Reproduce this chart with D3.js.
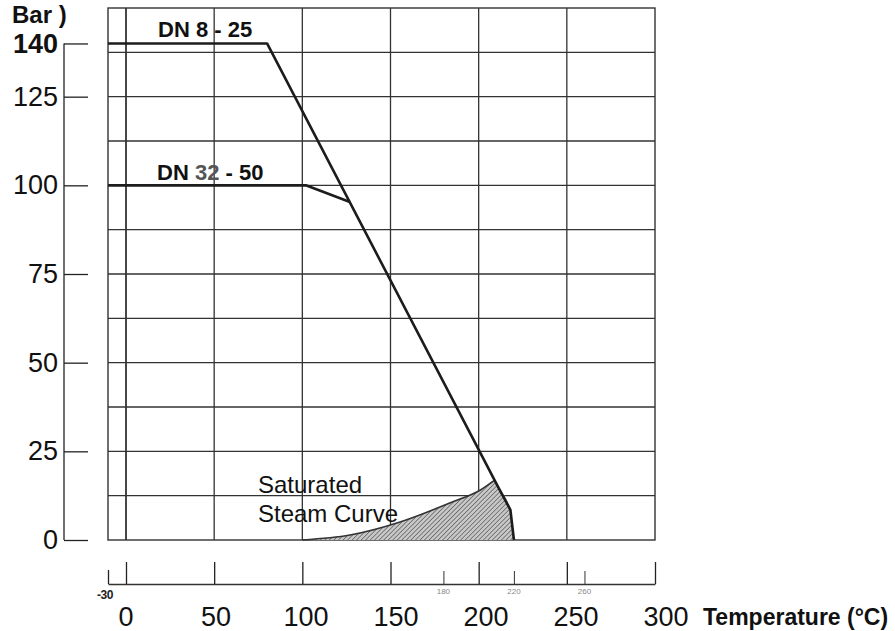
<!DOCTYPE html>
<html>
<head>
<meta charset="utf-8">
<script src="https://cdn.jsdelivr.net/npm/d3@7"></script>
<style>
  body { margin: 0; background: #fff; }
  svg { display: block; font-family: "Liberation Sans", Arial, Helvetica, sans-serif; }
</style>
</head>
<body>
<div id="chart"></div>
<script>
// pressure (bar) / temperature (°C) limits
const yTicks = [0, 25, 50, 75, 100, 125, 140];
const xTicks = [-30, 0, 50, 100, 150, 200, 250, 300];
const xLabels = [0, 50, 100, 150, 200, 250, 300];
const xMinorTicks = [180, 220, 260];
const xGrid = [0, 50, 100, 150, 200, 250];
const yGrid = [12.5, 25, 37.5, 50, 62.5, 75, 87.5, 100, 112.5, 125, 137.5];

const dn825 = [[-30, 140], [80, 140], [211, 15], [218, 8.5], [220, 0]];
const dn3250 = [[-30, 100], [102, 100], [127, 95.3]];
const steamCurve = [[100, 0], [127, 1.4], [155, 5], [184, 10.5], [201, 14.1], [209, 16.8]];
const steamZoneEdge = [[211, 15], [218, 8.5], [220, 0]];

const width = 895, height = 631;

const svg = d3.select("#chart").append("svg")
    .attr("width", width).attr("height", height)
    .attr("viewBox", `0 0 ${width} ${height}`);

// the -30 end of the scale is squeezed in the original drawing
const x = d3.scaleLinear().domain([-30, 0, 300]).range([108, 126, 655]);
const y = d3.scaleLinear().domain([0, 150]).range([540, 8]);
// big numbers under the axis sit a little right of their ticks
const xLabel = d3.scaleLinear().domain([0, 300]).range([x(0), x(300) + 11]);

const defs = svg.append("defs");
const hatch = defs.append("pattern").attr("id", "hatch")
    .attr("patternUnits", "userSpaceOnUse")
    .attr("width", 3.2).attr("height", 3.2)
    .attr("patternTransform", "rotate(45)");
hatch.append("rect").attr("width", 3.2).attr("height", 3.2).attr("fill", "#c8c8c8");
hatch.append("line").attr("x1", 0).attr("y1", 0).attr("x2", 0).attr("y2", 3.2)
    .attr("stroke", "#5a5a5a").attr("stroke-width", 1.4);

// grid
const grid = svg.append("g").attr("stroke", "#333").attr("stroke-width", 1.3);
grid.selectAll("line.h").data(yGrid).join("line").attr("class", "h")
    .attr("x1", x(-30)).attr("x2", x(300))
    .attr("y1", d => y(d)).attr("y2", d => y(d));
grid.selectAll("line.v").data(xGrid).join("line").attr("class", "v")
    .attr("x1", d => x(d)).attr("x2", d => x(d))
    .attr("y1", y(150)).attr("y2", y(0))
    .attr("stroke-width", d => d === 0 ? 1.8 : 1.3);
svg.append("rect")
    .attr("x", x(-30)).attr("y", y(150))
    .attr("width", x(300) - x(-30)).attr("height", y(0) - y(150))
    .attr("fill", "none").attr("stroke", "#333").attr("stroke-width", 1.4);

// saturated steam zone
const zone = d3.area()
    .x(d => x(d[0])).y0(y(0)).y1(d => y(d[1]))
    .curve(d3.curveMonotoneX);
svg.append("path").datum(steamCurve.concat(steamZoneEdge))
    .attr("d", zone).attr("fill", "url(#hatch)");
svg.append("path").datum(steamCurve)
    .attr("d", d3.line().x(d => x(d[0])).y(d => y(d[1])).curve(d3.curveMonotoneX))
    .attr("fill", "none").attr("stroke", "#333").attr("stroke-width", 1.6);

// limit lines
const limit = d3.line().x(d => x(d[0])).y(d => y(d[1]));
svg.selectAll("path.limit").data([dn825, dn3250]).join("path").attr("class", "limit")
    .attr("d", limit).attr("fill", "none")
    .attr("stroke", "#1c1c1c").attr("stroke-width", 2.6).attr("stroke-linejoin", "round");

// y axis, drawn apart from the plot
const yAxis = svg.append("g").attr("transform", "translate(88,0)")
    .call(d3.axisLeft(y).tickValues(yTicks).tickSize(24).tickPadding(6));
yAxis.select(".domain").remove();
yAxis.selectAll(".tick line").attr("stroke", "#222").attr("stroke-width", 1.3);
yAxis.selectAll(".tick text")
    .attr("font-family", "Liberation Sans, Arial, sans-serif")
    .attr("font-size", 27).attr("fill", "#111")
    .attr("font-weight", d => d === 140 ? "bold" : "normal");
svg.append("line").attr("x1", 64).attr("x2", 64)
    .attr("y1", y(140)).attr("y2", y(0))
    .attr("stroke", "#222").attr("stroke-width", 1.3);
svg.append("text").attr("x", 12).attr("y", 23)
    .attr("font-size", 24).attr("font-weight", "bold").attr("fill", "#111")
    .text("Bar )");

// x axis, also drawn apart
const xAxisY = 584;
const xAxis = svg.append("g").attr("transform", `translate(0,${xAxisY})`)
    .call(d3.axisTop(x).tickValues(xTicks).tickSize(22).tickSizeOuter(0).tickFormat(""));
xAxis.select(".domain").attr("stroke", "#333").attr("stroke-width", 1.3);
xAxis.selectAll(".tick line").attr("stroke", "#222").attr("stroke-width", 1.3)
    .filter(d => d === -30).attr("y2", -14);
const xMinor = svg.append("g").attr("transform", `translate(0,${xAxisY})`)
    .call(d3.axisTop(x).tickValues(xMinorTicks).tickSize(13).tickFormat(""));
xMinor.select(".domain").remove();
xMinor.selectAll(".tick line").attr("stroke", "#444").attr("stroke-width", 1.1);

svg.selectAll("text.minor").data(xMinorTicks).join("text").attr("class", "minor")
    .attr("x", d => x(d)).attr("y", 594)
    .attr("text-anchor", "middle").attr("font-size", 8).attr("fill", "#888")
    .text(d => d);
svg.append("text").attr("x", x(-30) - 3).attr("y", 599)
    .attr("text-anchor", "middle").attr("font-size", 12).attr("font-weight", "bold")
    .attr("letter-spacing", -0.5).attr("fill", "#222")
    .text("-30");
svg.selectAll("text.xlab").data(xLabels).join("text").attr("class", "xlab")
    .attr("x", d => xLabel(d)).attr("y", 626)
    .attr("text-anchor", "middle").attr("font-size", 27).attr("fill", "#111")
    .text(d => d);
svg.append("text").attr("x", 703).attr("y", 625)
    .attr("font-size", 23).attr("font-weight", "bold").attr("fill", "#111")
    .text("Temperature (°C)");

// annotations
svg.append("text").attr("x", 158).attr("y", 37)
    .attr("font-size", 22).attr("font-weight", "bold").attr("fill", "#111")
    .text("DN 8 - 25");
const dn2 = svg.append("text").attr("x", 157).attr("y", 180)
    .attr("font-size", 22).attr("font-weight", "bold").attr("fill", "#111");
dn2.append("tspan").text("DN ");
dn2.append("tspan").attr("fill", "#555").text("32");
dn2.append("tspan").text(" - 50");
svg.append("text").attr("x", 258).attr("y", 493)
    .attr("font-size", 24).attr("fill", "#111").text("Saturated");
svg.append("text").attr("x", 258).attr("y", 522)
    .attr("font-size", 24).attr("fill", "#111").text("Steam Curve");
</script>
</body>
</html>
